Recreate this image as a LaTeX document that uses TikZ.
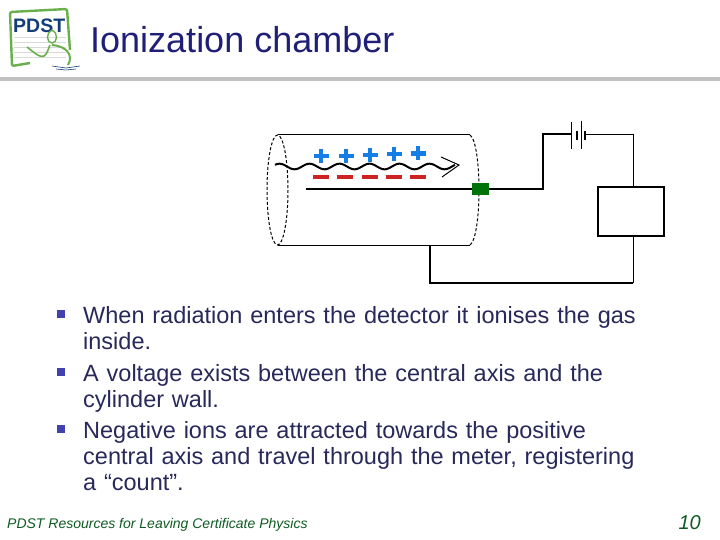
\documentclass[tikz,border=0pt]{standalone}
\usepackage{fontspec}
\setmainfont{Liberation Sans}
\definecolor{titleblue}{RGB}{31,31,120}
\definecolor{bodyblue}{RGB}{40,40,90}
\definecolor{bulletblue}{RGB}{65,65,175}
\definecolor{footgreen}{RGB}{15,90,35}
\definecolor{rulegrey}{RGB}{192,192,192}
\definecolor{plusblue}{RGB}{20,125,230}
\definecolor{minusred}{RGB}{205,35,35}
\definecolor{termgreen}{RGB}{0,115,10}
\definecolor{logogreen}{RGB}{105,175,75}
\definecolor{logoblue}{RGB}{20,60,120}
\tikzset{
    heavy/.style = {line width = 2pt},
    thinline/.style = {line width = 1pt},
    bodytext/.style = {anchor = north west, inner sep = 0pt, font = \fontsize{23.5}{26}\selectfont, align = left, text width = 600pt, text = bodyblue},
    bulletmark/.style = {fill = bulletblue, minimum size = 8pt, inner sep = 0pt}
}
\begin{document}
\begin{tikzpicture}[x = 1pt, y = -1pt]
        \useasboundingbox (0,0) rectangle (720,540);
        % logo
        \foreach \ly in {37,42,47,52,57} {
            \draw[black!15, line width = 0.6pt] (14,\ly) -- (66,\ly);
        }
        \draw[logogreen, line width = 2.4pt, rounded corners = 2pt] (30,63) -- (12,66) -- (10,12) -- (67,9) -- (70,50);
        \node[anchor = west, inner sep = 0pt, text = logoblue, font = \fontsize{19.5}{20}\selectfont\bfseries] (logotext) at (13,26) {PDST};
        \draw[logogreen, line width = 1.6pt] (27,47) .. controls (36,54) and (40,58) .. (44,56) .. controls (47,54) and (48,50) .. (50,45);
        \draw[logogreen, line width = 1.4pt] (52,30) .. controls (46,32) and (46,43) .. (52,43) .. controls (58,43) and (58,32) .. (52,30);
        \draw[logogreen, line width = 2pt] (52,45) .. controls (66,46) and (74,55) .. (68,65);
        \draw[logoblue, line width = 0.6pt] (52,66) -- (66,68) -- (80,66);
        \draw[logoblue, line width = 0.6pt] (56,69) -- (66,70) -- (76,69);
        % title
        \node[anchor = west, inner sep = 0pt, text = titleblue, font = \fontsize{36}{36}\selectfont] (title) at (90,40) {Ionization chamber};
        \draw[rulegrey, line width = 3.5pt] (0,79) -- (720,79);
        % cylinder
        \draw[thinline] (277.5,135) -- (470,135);
        \draw[thinline] (277.5,245) -- (470,245);
        \draw[thinline, densely dashed] (277.5,190) ellipse (10.5 and 55);
        \draw[thinline, densely dashed] (470,135) .. controls (476,139) and (479,165) .. (479,190) .. controls (479,215) and (476,241) .. (470,245);
        % ions
        \foreach \px/\py in {321/156, 346/156, 370/155, 394/154, 418/153.5} {
            \draw[plusblue, line width = 4.5pt] (\px-7.5,\py) -- (\px+7.5,\py);
            \draw[plusblue, line width = 4.5pt] (\px,\py-7) -- (\px,\py+7);
        }
        \foreach \mx in {321, 345, 370, 394, 418} {
            \draw[minusred, line width = 3.5pt] (\mx-8,177) -- (\mx+8,177);
        }
        % radiation
        \draw[heavy] plot[domain = 275:455, samples = 120, smooth] (\x, {166.5 - 2.8*sin((\x-302)*12)});
        \draw[thinline] (441,157) -- (459,165) -- (442,177);
        % circuit
        \node[draw, line width = 2pt, minimum width = 66pt, minimum height = 49pt, inner sep = 0pt] (meter) at (631,211.5) {};
        \node[fill = termgreen, minimum width = 17pt, minimum height = 12pt, inner sep = 0pt] (terminal) at (480.5,189.5) {};
        \coordinate (axisend) at (306,189.5);
        \coordinate (plateleft) at (571,134.5);
        \coordinate (plateright) at (585,134.5);
        \coordinate (wallpoint) at (430,245);
        \draw[heavy] (axisend) -- (terminal);
        \draw[heavy] (terminal.east) -- (543,189.5) -- (543,134.5) -- (plateleft);
        \draw[thinline] (plateright) -| (633,187);
        \draw[thinline] (633,236) -- (633,283);
        \draw[heavy] (633,283) -- (430,283) -- (wallpoint);
        % battery
        \draw[thinline] (571,122) -- (571,149);
        \draw[thinline] (581,121) -- (581,149);
        \draw[line width = 2.5pt] (577,131) -- (577,140);
        \draw[line width = 2.5pt] (585,131) -- (585,140);
        % text
        \node[bulletmark] (bulleta) at (61,314) {};
        \node[bodytext] (texta) at (83,306) {When radiation enters the detector it ionises the gas\\inside.};
        \node[bulletmark] (bulletb) at (61,372) {};
        \node[bodytext] (textb) at (83,364) {A voltage exists between the central axis and the\\cylinder wall.};
        \node[bulletmark] (bulletc) at (61,429) {};
        \node[bodytext] (textc) at (83,421) {Negative ions are attracted towards the positive\\central axis and travel through the meter, registering\\a “count”.};
        % footer
        \node[anchor = west, inner sep = 0pt, text = footgreen, font = \fontsize{14}{14}\selectfont\itshape] (footer) at (7,525) {PDST Resources for Leaving Certificate Physics};
        \node[anchor = east, inner sep = 0pt, text = footgreen, font = \fontsize{20}{20}\selectfont\itshape] (pagenum) at (701,523) {10};
    \end{tikzpicture}
\end{document}
